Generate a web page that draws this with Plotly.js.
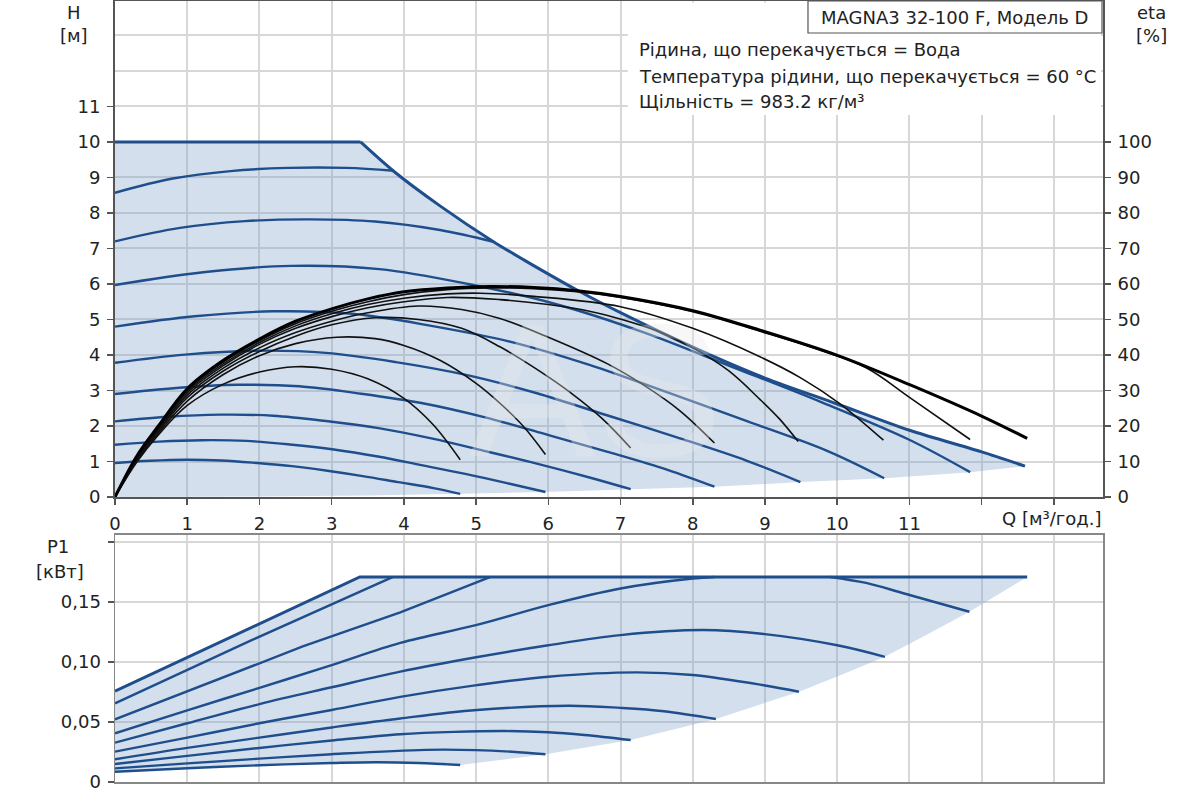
<!DOCTYPE html>
<html>
<head>
<meta charset="utf-8">
<script src="https://cdn.plot.ly/plotly-3.0.1.min.js"></script>
<style>html,body{margin:0;padding:0;background:#fff;}#chart{width:1200px;height:800px;}</style>
</head>
<body>
<div id="chart"></div>
<script>
// ---- axis ticks ----
const qTicks = [0,1,2,3,4,5,6,7,8,9,10,11,12,13];
const qTickText = ['0','1','2','3','4','5','6','7','8','9','10','11','',''];
const hTicks = [0,1,2,3,4,5,6,7,8,9,10,11];
const hExtraGrid = [12,13];
const etaTicks = [0,10,20,30,40,50,60,70,80,90,100];
const pTicks = [0,0.05,0.10,0.15,0.20];
const pTickText = ['0','0,05','0,10','0,15',''];

// ---- H(Q) curves, m ----
const hQ1 = [0,0.49,0.98,1.47,1.96,2.45,2.94,3.43,3.92,4.41,4.78];
const hH1 = [0.96,1.02,1.05,1.03,0.96,0.87,0.74,0.59,0.42,0.25,0.09];
const hQ2 = [0,0.61,1.21,1.82,2.42,3.03,3.64,4.24,4.85,5.45,5.96];
const hH2 = [1.47,1.56,1.60,1.58,1.48,1.34,1.14,0.90,0.65,0.38,0.14];
const hQ3 = [0,0.73,1.46,2.19,2.92,3.65,4.38,5.11,5.84,6.57,7.14];
const hH3 = [2.13,2.26,2.32,2.29,2.14,1.94,1.65,1.30,0.94,0.55,0.22];
const hQ4 = [0,0.85,1.70,2.55,3.41,4.26,5.11,5.96,6.81,7.66,8.30];
const hH4 = [2.90,3.07,3.16,3.12,2.91,2.64,2.25,1.77,1.28,0.76,0.29];
const hQ5 = [0,0.97,1.94,2.92,3.89,4.86,5.83,6.80,7.78,8.75,9.49];
const hH5 = [3.78,4.01,4.12,4.06,3.80,3.44,2.93,2.31,1.68,1.02,0.42];
const hQ6 = [0,1.10,2.19,3.29,4.38,5.48,6.57,7.67,8.76,9.86,10.65];
const hH6 = [4.80,5.09,5.23,5.16,4.82,4.37,3.72,2.93,2.13,1.30,0.53];
const hQ7 = [0,1.22,2.44,3.66,4.89,6.11,7.33,8.55,9.77,10.99,11.84];
const hH7 = [5.97,6.33,6.51,6.42,6.00,5.43,4.63,3.66,2.68,1.62,0.70];
const hQ8 = [0,0.9,1.8,2.7,3.6,4.5,5.24];
const hH8 = [7.20,7.58,7.77,7.82,7.76,7.52,7.19];
const hQ9 = [0,0.8,1.6,2.4,3.2,3.86];
const hH9 = [8.57,8.97,9.18,9.27,9.27,9.19];
const maxQ = [0,3.40,3.85,4.5,5.24,5.66,6.44,7.02,8.0,9.0,10.0,11.0,12.0,12.6];
const maxH = [10,10,9.19,8.2,7.19,6.68,5.78,5.17,4.22,3.35,2.62,1.88,1.27,0.87];
const lowQ = [11.84,10.65,9.49,8.30,7.14,5.96,4.78,3.5,2.0,0];
const lowH = [0.70,0.53,0.42,0.29,0.22,0.14,0.09,0.045,0.015,0];

// ---- efficiency curves, % ----
const eQ1 = [0,0.3,0.6,1.0,1.5,2.0,2.5,3.0,3.5,4.0,4.4,4.78];
const eE1 = [0,9.8,17.5,25.8,31.8,35.2,36.7,36.0,33.3,27.8,20.5,10.5];
const eQ2 = [0,0.3,0.6,1.0,1.5,2.0,2.5,3.07,3.6,4.0,4.5,5.0,5.33,5.65,5.96];
const eE2 = [0,10.2,18,27,34.5,39.8,43.2,45,44.6,42.7,38.5,32,26.4,20,12];
const eQ3 = [0,0.3,0.6,1.0,1.5,2.0,2.5,3.0,3.6,4.2,4.8,5.33,5.8,6.32,6.75,7.14];
const eE3 = [0,10.5,18.5,28,35.5,41,45.3,48.5,50.5,50.0,47.5,42.3,36.5,29.2,22,13.8];
const eQ4 = [0,0.3,0.6,1.0,1.5,2.0,2.5,3.0,3.5,4.2,4.8,5.33,6.0,6.82,7.3,7.81,8.30];
const eE4 = [0,10.7,18.9,28.7,36.3,42,46.3,49.5,51.9,53.8,52.8,50.3,45.0,37.5,31.8,24.5,15.2];
const eQ5 = [0,0.3,0.6,1.0,1.5,2.0,2.5,3.0,3.5,4.0,4.6,5.33,6.0,6.6,7.02,7.5,8.0,8.5,8.93,9.2,9.46];
const eE5 = [0,10.9,19.2,29.3,37,43,47.5,50.8,53.3,55,56.2,55.6,54.2,52.2,50.0,46.8,42.0,35.5,27.5,22.0,15.6];
const eQ6 = [0,0.3,0.6,1.0,1.5,2.0,2.5,3.0,3.5,4.0,4.6,5.06,5.8,7.0,8.0,8.93,9.5,10.03,10.64];
const eE6 = [0,11.1,19.5,29.8,37.5,43.5,48.2,51.6,54.2,56.0,57.2,57.4,56.5,53.6,47.5,39.5,33.5,26.4,16.0];
const eQ7 = [0,0.3,0.6,1.0,1.5,2.0,2.5,3.0,3.5,4.0,4.6,5.2,5.8,6.4,7.0,8.0,8.93,9.7,10.4,11.02,11.84];
const eE7 = [0,11.3,19.8,30.2,38.0,44.0,48.8,52.3,55.0,57.0,58.4,58.9,58.7,57.8,56.2,52.2,46.7,41.8,36.4,27.8,16.2];
const eQmax = [0,0.3,0.6,1.0,1.5,2.0,2.5,3.0,3.5,4.0,4.6,5.2,5.8,6.4,7.0,8.0,8.93,10.03,11.02,12.02,12.63];
const eEmax = [0,11.5,20,30.5,38.5,44.5,49.5,53,55.8,57.8,58.9,59.3,59.0,58.1,56.5,52.5,47.0,39.7,31.5,22.6,16.5];

// ---- P1(Q) curves, kW ----
const pQ1 = [0,1,2,3,3.6,4.2,4.78];
const pP1 = [0.0086,0.0115,0.0140,0.0158,0.0165,0.0159,0.0142];
const pQ2 = [0,1,2,3,4.3,5.0,5.5,5.96];
const pP2 = [0.0114,0.0155,0.0195,0.0232,0.0268,0.0266,0.0252,0.0231];
const pQ3 = [0,1,2,3,3.95,4.7,5.4,6.0,6.5,7.14];
const pP3 = [0.0150,0.0218,0.0284,0.0346,0.0398,0.0418,0.0425,0.0415,0.0392,0.0350];
const pQ4 = [0,1,2,3,3.95,5.01,6.28,7.0,7.6,8.32];
const pP4 = [0.0189,0.0285,0.0370,0.0455,0.0530,0.0600,0.0636,0.0618,0.0590,0.0525];
const pQ5 = [0,1,2,3,3.95,5.01,6.0,7.21,8.0,9.0,9.47];
const pP5 = [0.0253,0.0370,0.0490,0.0600,0.0710,0.0808,0.0878,0.0914,0.0892,0.0805,0.0753];
const pQ6 = [0,1,2,3,3.95,5.0,6.0,7.0,8.14,9.0,10.0,10.66];
const pP6 = [0.0328,0.0490,0.0650,0.0790,0.0920,0.1040,0.1140,0.1225,0.1267,0.1233,0.1140,0.1044];
const pQ7a = [0,1,2,3,3.95,5.01,6.0,7.0,8.0,8.3];
const pP7a = [0.0406,0.0598,0.0785,0.0975,0.1160,0.1310,0.1475,0.1614,0.1697,0.1710];
const pQ7b = [9.9,10.4,10.94,11.83];
const pP7b = [0.1710,0.1660,0.1570,0.1420];
const pQ8 = [0,2.6,3.95,5.2];
const pP8 = [0.0522,0.1130,0.1415,0.1710];
const pQ9 = [0,1.9,3.85];
const pP9 = [0.0656,0.1185,0.1710];
const pmaxQ = [0,3.39,12.63];
const pmaxP = [0.0758,0.1710,0.1710];
const bndQ = [12.2,11.83,11.2,10.66,10.0,9.47,8.32,7.14,5.96];
const bndP = [0.1555,0.1420,0.1215,0.1044,0.0880,0.0753,0.0525,0.0350,0.0231];

// ---- styles ----
const BLUE = '#1f4e8c';
const FILL = 'rgba(120,158,200,0.33)';
const GRID = '#d7d7d7';

const traces = [];
// top fill region
traces.push({x:[0].concat(maxQ, lowQ), y:[0].concat(maxH, lowH), xaxis:'x', yaxis:'y',
  type:'scatter', mode:'lines', fill:'toself', fillcolor:FILL, line:{width:0}, hoverinfo:'skip'});
const headSets = [[hQ1,hH1],[hQ2,hH2],[hQ3,hH3],[hQ4,hH4],[hQ5,hH5],[hQ6,hH6],[hQ7,hH7],[hQ8,hH8],[hQ9,hH9]];
headSets.forEach(s => traces.push({x:s[0], y:s[1], xaxis:'x', yaxis:'y', type:'scatter', mode:'lines',
  line:{color:BLUE, width:2.4, shape:'spline', smoothing:1}}));
// max curve: flat part + smooth descending part
traces.push({x:maxQ.slice(0,2), y:maxH.slice(0,2), xaxis:'x', yaxis:'y', type:'scatter', mode:'lines',
  line:{color:BLUE, width:3}});
traces.push({x:maxQ.slice(1), y:maxH.slice(1), xaxis:'x', yaxis:'y', type:'scatter', mode:'lines',
  line:{color:BLUE, width:3, shape:'spline', smoothing:0.8}});
// efficiency curves
const effSets = [[eQ1,eE1],[eQ2,eE2],[eQ3,eE3],[eQ4,eE4],[eQ5,eE5],[eQ6,eE6],[eQ7,eE7]];
effSets.forEach(s => traces.push({x:s[0], y:s[1], xaxis:'x', yaxis:'y2', type:'scatter', mode:'lines',
  line:{color:'#111', width:1.6, shape:'spline', smoothing:1}}));
traces.push({x:eQmax, y:eEmax, xaxis:'x', yaxis:'y2', type:'scatter', mode:'lines',
  line:{color:'#000', width:3, shape:'spline', smoothing:1}});

// bottom fill region
const revQ1 = pQ1.slice().reverse(), revP1 = pP1.slice().reverse();
traces.push({x:pmaxQ.concat(bndQ, revQ1), y:pmaxP.concat(bndP, revP1), xaxis:'x2', yaxis:'y3',
  type:'scatter', mode:'lines', fill:'toself', fillcolor:FILL, line:{width:0}, hoverinfo:'skip'});
const powSets = [[pQ1,pP1],[pQ2,pP2],[pQ3,pP3],[pQ4,pP4],[pQ5,pP5],[pQ6,pP6],[pQ7a,pP7a],[pQ7b,pP7b]];
powSets.forEach(s => traces.push({x:s[0], y:s[1], xaxis:'x2', yaxis:'y3', type:'scatter', mode:'lines',
  line:{color:BLUE, width:2.4, shape:'spline', smoothing:1}}));
[[pQ8,pP8],[pQ9,pP9]].forEach(s => traces.push({x:s[0], y:s[1], xaxis:'x2', yaxis:'y3', type:'scatter', mode:'lines',
  line:{color:BLUE, width:2.4, shape:'linear'}}));
traces.push({x:pmaxQ, y:pmaxP, xaxis:'x2', yaxis:'y3', type:'scatter', mode:'lines',
  line:{color:BLUE, width:3, shape:'linear'}});

const tickFont = {family:'DejaVu Sans', size:18, color:'#222'};
const baseAx = {showgrid:true, gridcolor:GRID, gridwidth:2, zeroline:false, showline:true,
  ticks:'outside', ticklen:6, tickwidth:1.5, tickcolor:'#555', tickfont:tickFont,
  ticklabelstandoff:3, fixedrange:true};

const TXT = {family:'DejaVu Sans', size:18, color:'#222'};
function note(text, x, y, xanchor) {
  return {text:text, xref:'paper', yref:'paper', x:x, y:y, xanchor:xanchor || 'center',
    yanchor:'middle', showarrow:false, font:TXT};
}
const layout = {
  width:1200, height:800,
  margin:{l:115, r:97, t:1, b:18},
  paper_bgcolor:'#fff', plot_bgcolor:'rgba(0,0,0,0)',
  showlegend:false,
  font:{family:'DejaVu Sans', size:18, color:'#222'},
  xaxis: Object.assign({}, baseAx, {domain:[0,1], anchor:'y', range:[0,13.68], tickmode:'array',
    tickvals:qTicks, ticktext:qTickText, linecolor:'#555', linewidth:2, mirror:true}),
  yaxis: Object.assign({}, baseAx, {domain:[0.3649,1], anchor:'x', range:[0,13.97], tickmode:'array',
    tickvals:hTicks, linecolor:'#555', linewidth:2, mirror:true,
    minor:{tickmode:'array', tickvals:hExtraGrid, showgrid:true, gridcolor:GRID, gridwidth:2, ticks:''}}),
  yaxis2: Object.assign({}, baseAx, {overlaying:'y', side:'right', anchor:'x', range:[0,139.7], tickmode:'array',
    tickvals:etaTicks, showgrid:false, linecolor:'#555', linewidth:2}),
  xaxis2: Object.assign({}, baseAx, {domain:[0,1], anchor:'y3', range:[0,13.68], tickmode:'array',
    tickvals:qTicks, showticklabels:false, ticks:'', linecolor:'#888', linewidth:1.5, mirror:true}),
  yaxis3: Object.assign({}, baseAx, {domain:[0,0.3163], anchor:'x2', range:[0,0.206], tickmode:'array',
    tickvals:pTicks, ticktext:pTickText, linecolor:'#888', linewidth:1.5, mirror:true}),
  shapes:[
    {type:'rect', xref:'paper', yref:'paper', x0:0.519, x1:0.998, y0:0.854, y1:0.998,
     fillcolor:'#fff', line:{width:0}, layer:'above'},
    {type:'rect', xref:'paper', yref:'paper', x0:0.7014, x1:0.999, y0:0.959, y1:1.0,
     fillcolor:'#fff', line:{color:'#555', width:1.2}, layer:'above'}
  ],
  annotations:[
    {text:'AS', xref:'paper', yref:'paper', x:0.486, y:0.502, xanchor:'center', yanchor:'middle', showarrow:false,
     font:{family:'Liberation Sans', size:190, color:'rgba(232,232,232,0.35)'}},
    note('MAGNA3 32-100 F, Модель D', 0.850, 0.9795),
    note('Рідина, що перекачується = Вода', 0.5283, 0.9373, 'left'),
    note('Температура рідини, що перекачується = 60 °C', 0.5283, 0.9027, 'left'),
    note('Щільність = 983.2 кг/м³', 0.5283, 0.8719, 'left'),
    note('H', -0.0415, 0.9859),
    note('[м]', -0.0415, 0.9552),
    note('eta', 1.0486, 0.9859),
    note('[%]', 1.0486, 0.9552),
    note('Q [м³/год.]', 0.8957, 0.338, 'left'),
    note('P1', -0.0577, 0.3009),
    note('[кВт]', -0.0557, 0.270)
  ]
};

Plotly.newPlot('chart', traces, layout, {displayModeBar:false, staticPlot:true});
</script>
</body>
</html>
